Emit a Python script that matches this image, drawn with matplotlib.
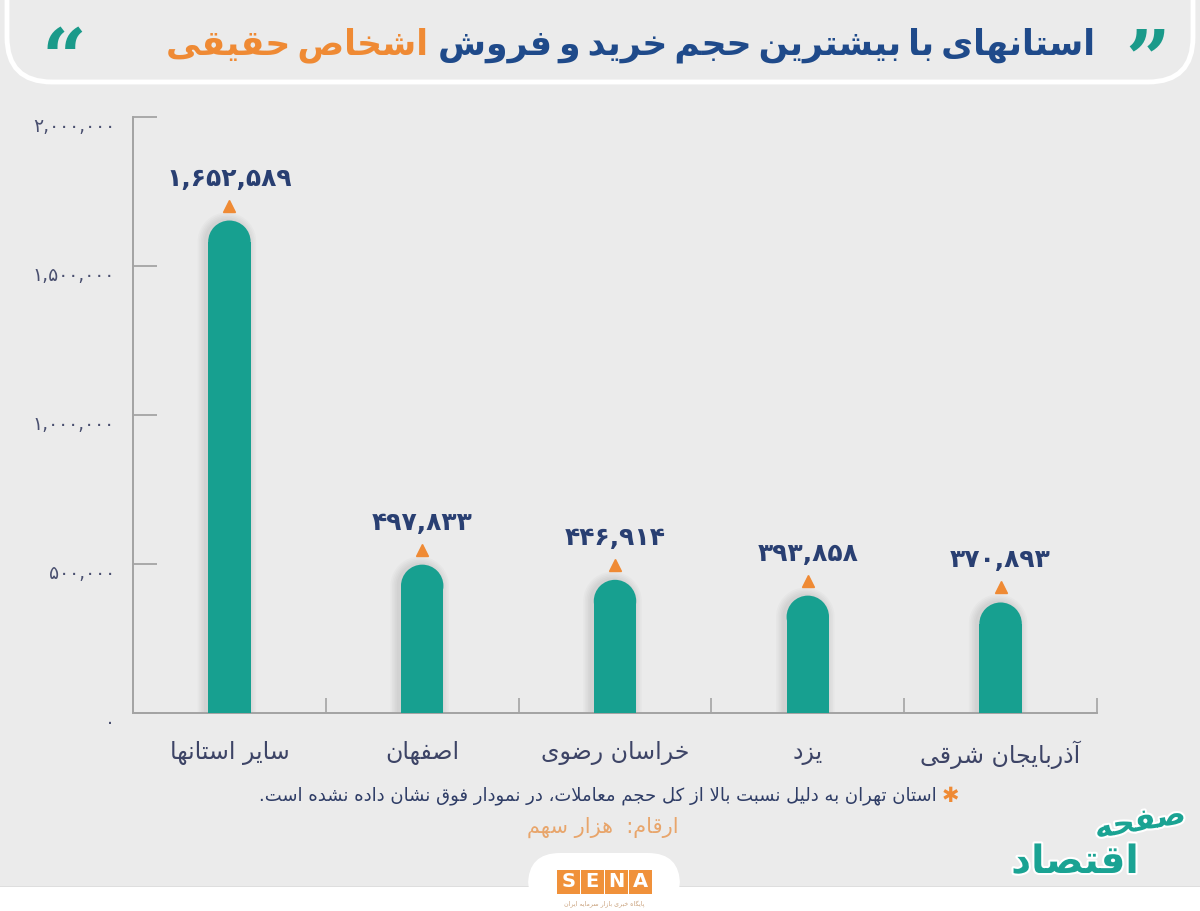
import numpy as np
import matplotlib
matplotlib.use('Agg')
import matplotlib.pyplot as plt
from matplotlib.patches import Rectangle, Ellipse, Polygon, FancyBboxPatch
from matplotlib.transforms import offset_copy
import matplotlib.patheffects as pe

plt.rcParams['font.family'] = ['DejaVu Sans']

# ---- data -------------------------------------------------------------
categories = ['سایر استانها', 'اصفهان', 'خراسان رضوی', 'یزد', 'آذربایجان شرقی']
values = [1652589, 497833, 446914, 393858, 370893]
y_ticks = [0, 500000, 1000000, 1500000, 2000000]

title_main = 'استانهای با بیشترین حجم خرید و فروش'
title_hl = 'اشخاص حقیقی'
footnote = 'استان تهران به دلیل نسبت بالا از کل حجم معاملات، در نمودار فوق نشان داده نشده است.'
units = 'ارقام:  هزار سهم'

BG = '#ebebeb'
TEAL = '#17a090'
NAVY = '#293f72'
BLUE = '#1f4a8a'
ORANGE = '#ef8a34'

# ---- minimal arabic/persian shaping (matplotlib has no bidi) ---------
FORMS = {
    '\u0621': ('\uFE80',),
    '\u0622': ('\uFE81', '\uFE82'),
    '\u0623': ('\uFE83', '\uFE84'),
    '\u0624': ('\uFE85', '\uFE86'),
    '\u0625': ('\uFE87', '\uFE88'),
    '\u0626': ('\uFE89', '\uFE8A', '\uFE8B', '\uFE8C'),
    '\u0627': ('\uFE8D', '\uFE8E'),
    '\u0628': ('\uFE8F', '\uFE90', '\uFE91', '\uFE92'),
    '\u0629': ('\uFE93', '\uFE94'),
    '\u062A': ('\uFE95', '\uFE96', '\uFE97', '\uFE98'),
    '\u062B': ('\uFE99', '\uFE9A', '\uFE9B', '\uFE9C'),
    '\u062C': ('\uFE9D', '\uFE9E', '\uFE9F', '\uFEA0'),
    '\u062D': ('\uFEA1', '\uFEA2', '\uFEA3', '\uFEA4'),
    '\u062E': ('\uFEA5', '\uFEA6', '\uFEA7', '\uFEA8'),
    '\u062F': ('\uFEA9', '\uFEAA'),
    '\u0630': ('\uFEAB', '\uFEAC'),
    '\u0631': ('\uFEAD', '\uFEAE'),
    '\u0632': ('\uFEAF', '\uFEB0'),
    '\u0633': ('\uFEB1', '\uFEB2', '\uFEB3', '\uFEB4'),
    '\u0634': ('\uFEB5', '\uFEB6', '\uFEB7', '\uFEB8'),
    '\u0635': ('\uFEB9', '\uFEBA', '\uFEBB', '\uFEBC'),
    '\u0636': ('\uFEBD', '\uFEBE', '\uFEBF', '\uFEC0'),
    '\u0637': ('\uFEC1', '\uFEC2', '\uFEC3', '\uFEC4'),
    '\u0638': ('\uFEC5', '\uFEC6', '\uFEC7', '\uFEC8'),
    '\u0639': ('\uFEC9', '\uFECA', '\uFECB', '\uFECC'),
    '\u063A': ('\uFECD', '\uFECE', '\uFECF', '\uFED0'),
    '\u0641': ('\uFED1', '\uFED2', '\uFED3', '\uFED4'),
    '\u0642': ('\uFED5', '\uFED6', '\uFED7', '\uFED8'),
    '\u0643': ('\uFED9', '\uFEDA', '\uFEDB', '\uFEDC'),
    '\u0644': ('\uFEDD', '\uFEDE', '\uFEDF', '\uFEE0'),
    '\u0645': ('\uFEE1', '\uFEE2', '\uFEE3', '\uFEE4'),
    '\u0646': ('\uFEE5', '\uFEE6', '\uFEE7', '\uFEE8'),
    '\u0647': ('\uFEE9', '\uFEEA', '\uFEEB', '\uFEEC'),
    '\u0648': ('\uFEED', '\uFEEE'),
    '\u0649': ('\uFEEF', '\uFEF0'),
    '\u064A': ('\uFEF1', '\uFEF2', '\uFEF3', '\uFEF4'),
    '\u067E': ('\uFB56', '\uFB57', '\uFB58', '\uFB59'),
    '\u0686': ('\uFB7A', '\uFB7B', '\uFB7C', '\uFB7D'),
    '\u0698': ('\uFB8A', '\uFB8B'),
    '\u06A9': ('\uFB8E', '\uFB8F', '\uFB90', '\uFB91'),
    '\u06AF': ('\uFB92', '\uFB93', '\uFB94', '\uFB95'),
    '\u06CC': ('\uFBFC', '\uFBFD', '\uFBFE', '\uFBFF'),
}
LAM_ALEF = {'\u0627': ('\uFEFB', '\uFEFC'), '\u0622': ('\uFEF5', '\uFEF6'),
            '\u0623': ('\uFEF7', '\uFEF8'), '\u0625': ('\uFEF9', '\uFEFA')}


def fwd(c):
    return c in FORMS and len(FORMS[c]) == 4


def back(c):
    return c in FORMS and len(FORMS[c]) >= 2


def fa(s):
    out = []
    i = 0
    n = len(s)
    while i < n:
        c = s[i]
        if c not in FORMS:
            if c != '\u200c':
                out.append(c)
            i += 1
            continue
        prev = s[i - 1] if i > 0 else ''
        nxt = s[i + 1] if i + 1 < n else ''
        p = fwd(prev) and back(c)
        if c == '\u0644' and nxt in LAM_ALEF:
            out.append(LAM_ALEF[nxt][1] if p else LAM_ALEF[nxt][0])
            i += 2
            continue
        q = fwd(c) and back(nxt)
        f = FORMS[c]
        if p and q:
            out.append(f[3])
        elif p:
            out.append(f[1])
        elif q:
            out.append(f[2])
        else:
            out.append(f[0])
        i += 1
    return ''.join(out[::-1])


DIG = str.maketrans('0123456789', '۰۱۲۳۴۵۶۷۸۹')


def fa_num(v):
    return f'{v:,}'.translate(DIG)


# ---- figure -----------------------------------------------------------
fig = plt.figure(figsize=(12, 9.11), dpi=100, facecolor=BG)
H = 9.11

# header panel, bottom strip
fig.add_artist(FancyBboxPatch((0.07, (911 - 82) / 100), 11.86, 1.5,
                              boxstyle='round,pad=0,rounding_size=0.45',
                              transform=fig.dpi_scale_trans, fc=BG, ec='white', lw=3.5))
fig.add_artist(Rectangle((0, 0), 12, 0.24, transform=fig.dpi_scale_trans,
                         fc='white', ec='none'))
fig.add_artist(Rectangle((0, 0.24), 12, 0.012, transform=fig.dpi_scale_trans,
                         fc='#dedede', ec='none'))
fig.add_artist(FancyBboxPatch((5.28, 0), 1.52, (911 - 853) / 100,
                              boxstyle='round,pad=0,rounding_size=0.32',
                              transform=fig.dpi_scale_trans, fc='white', ec='none'))

ax = fig.add_axes([133 / 1200, 198 / 911, 964 / 1200, 596 / 911])
ax.set_facecolor('none')
x = np.arange(len(categories))
ax.set_xlim(-0.5, len(categories) - 0.5)
ax.set_ylim(0, 2000000)

p0 = ax.transData.transform((0, 0))
p1 = ax.transData.transform((1, 1))
px_x = p1[0] - p0[0]
px_y = p1[1] - p0[1]
bar_w = 0.22
r_y = bar_w / 2 * px_x / px_y


def pill_poly(xc, top, w, dx=0.0):
    r = w / 2 * px_x / px_y
    t = np.linspace(np.pi, 0, 40)
    arc = np.column_stack([xc + dx + w / 2 * np.cos(t), top - r + r * np.sin(t)])
    pts = np.vstack([[xc + dx - w / 2, 0], arc, [xc + dx + w / 2, 0]])
    return Polygon(pts, closed=True)


# soft shadow
for k in range(1, 6):
    grow = k * 1.6 / px_x
    for xi, v in zip(x, values):
        sh = pill_poly(xi, v + k * 1.6 / px_y, bar_w + 2 * grow, dx=-2.5 / px_x)
        sh.set_facecolor('#606060')
        sh.set_edgecolor('none')
        sh.set_alpha(0.035)
        sh.set_zorder(2)
        ax.add_patch(sh)

body = [v - r_y for v in values]
ax.bar(x, body, width=bar_w, color=TEAL, zorder=3)
for xi, v in zip(x, values):
    ax.add_patch(Ellipse((xi, v - r_y), bar_w, 2 * r_y, fc=TEAL, ec='none', zorder=3))

tri_tr = offset_copy(ax.transData, fig=fig, x=0, y=15, units='dots')
ax.plot(x, values, ls='none', marker='^', ms=8.5, color=ORANGE, mec=ORANGE,
        transform=tri_tr, zorder=4, clip_on=False)

for xi, v in zip(x, values):
    ax.annotate(fa_num(v), xy=(xi, v), xytext=(0, 42), textcoords='offset pixels',
                ha='center', va='center', fontsize=18, fontweight='bold',
                color=NAVY, annotation_clip=False)

# axes styling
for s in ['top', 'right']:
    ax.spines[s].set_visible(False)
for s in ['left', 'bottom']:
    ax.spines[s].set_color('#a3a3a3')
    ax.spines[s].set_linewidth(1.4)

ax.set_yticks(y_ticks, [fa_num(t) for t in y_ticks])
ax.tick_params(axis='y', direction='in', length=17, width=1.3, color='#a3a3a3',
               pad=13, labelsize=13.5, labelcolor='#4a5070')
for lab in ax.get_yticklabels():
    lab.set_va('top')

ax.set_xticks(x, [fa(c) for c in categories])
ax.tick_params(axis='x', which='major', length=0, pad=20, labelsize=17,
               labelcolor='#3d4466')
ax.set_xticks(list(x[1:] - 0.5) + [x[-1] + 0.5], minor=True)
ax.tick_params(axis='x', which='minor', direction='in', length=11, width=1.2,
               color='#a3a3a3')

# title (blue part on the right, orange part continues to its left)
t_main = fig.text(1095 / 1200, 1 - 45 / 911, fa(title_main).replace(' ', '\u2009'),
                  ha='right', va='center', fontsize=25, fontweight='bold', color=BLUE)
renderer = fig.canvas.get_renderer()
bb = t_main.get_window_extent(renderer=renderer)
fig.text((bb.x0 - 10) / 1200, 1 - 45 / 911, fa(title_hl).replace(' ', '\u2009'),
         ha='right', va='center', fontsize=25, fontweight='bold', color=ORANGE)
fig.text(1148 / 1200, 1 - 25 / 911, '\u201d', ha='center', va='top',
         fontsize=56, fontweight='bold', family='DejaVu Serif', color='#1a9a8a')
fig.text(64 / 1200, 1 - 25 / 911, '\u201c', ha='center', va='top',
         fontsize=56, fontweight='bold', family='DejaVu Serif', color='#1a9a8a')

# footnote
foot = fig.text(598 / 1200, 1 - 796 / 911, fa(footnote), ha='center', va='center',
                fontsize=13, color='#2f3d66')
fb = foot.get_window_extent(renderer=renderer)
fig.text((fb.x1 + 5) / 1200, 1 - 796 / 911, '\u2731', ha='left', va='center',
         fontsize=15, color=ORANGE)
fig.text(603 / 1200, 1 - 827 / 911, fa(units), ha='center', va='center',
         fontsize=15, color='#e8a56b')

# logo
for i, ch in enumerate('SENA'):
    x0 = 5.57 + i * 0.24
    fig.add_artist(Rectangle((x0, (911 - 894) / 100), 0.225, 0.245,
                             transform=fig.dpi_scale_trans, fc='#f0913a', ec='none'))
    fig.text((x0 + 0.1125) / 12, ((911 - 894) / 100 + 0.1225) / H, ch, ha='center',
             va='center', fontsize=14, fontweight='bold', color='white')
fig.text(604 / 1200, 1 - 904 / 911, fa('پایگاه خبری بازار سرمایه ایران'),
         ha='center', va='center', fontsize=4.5, color='#c8a07a')

# watermark
wm = [pe.withStroke(linewidth=3, foreground='white')]
fig.text(1140 / 1200, 1 - 822 / 911, fa('صفحه'), ha='center', va='center',
         fontsize=22, fontweight='bold', color='#1aa393', path_effects=wm, rotation=10)
fig.text(1075 / 1200, 1 - 862 / 911, fa('اقتصاد'), ha='center', va='center',
         fontsize=28, fontweight='bold', color='#1aa393', path_effects=wm)

fig.savefig('out.png', dpi=100, facecolor=BG)
